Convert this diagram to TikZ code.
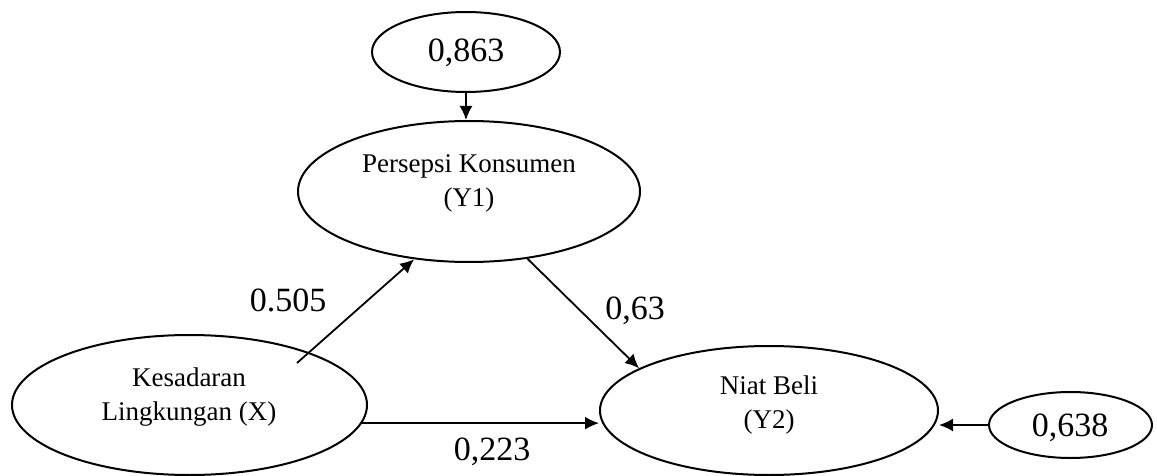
\documentclass[tikz,border=0pt]{standalone}
\usepackage{fontspec}
\setmainfont{Liberation Serif}
\usetikzlibrary{shapes.geometric,arrows.meta}
\begin{document}
\begin{tikzpicture}[x=0.5pt,y=-0.5pt,
  ell/.style={draw,ellipse,line width=1pt,inner sep=0pt},
  lbl/.style={font=\fontsize{13.5}{17}\selectfont,align=center,inner sep=0pt},
  num/.style={font=\fontsize{17}{20}\selectfont,inner sep=0pt},
  arr/.style={line width=0.9pt,-{Latex[length=7pt,width=6.5pt]}}]
\useasboundingbox (0,0) rectangle (1157,476);
% ellipses
\node[ell,minimum width=94pt,minimum height=40pt] (e1) at (466,52) {};
\node[ell,minimum width=171pt,minimum height=70.5pt] (pk) at (469,191.5) {};
\node[ell,minimum width=177.5pt,minimum height=70pt] (kl) at (189.5,405) {};
\node[ell,minimum width=169pt,minimum height=64.5pt] (nb) at (769,410.5) {};
\node[ell,minimum width=81.5pt,minimum height=33pt] (e2) at (1070.5,425) {};
% texts
\node[num] (t1) at (466,53) {0,863};
\node[num] (t2) at (1070,428) {0,638};
\node[lbl] (tpk) at (469,183) {Persepsi Konsumen\\(Y1)};
\node[lbl] (tkl) at (189,397) {Kesadaran\\Lingkungan (X)};
\node[lbl] (tnb) at (769,405) {Niat Beli\\(Y2)};
% connectors
\coordinate (ks) at (297,363);
\draw[arr] (e1.south) -- (e1.south |- pk.north);
\draw[arr] (ks) -- (pk.231);
\draw[arr] (pk.-49) -- (nb.162);
\draw[arr] (kl.-6.5) -- (kl.-6.5 -| nb.west);
\draw[arr] (e2.west) -- (e2.west -| nb.east);
% coefficient labels
\node[num] (l1) at (288,300) {0.505};
\node[num] (l2) at (635,311) {0,63};
\node[num] (l3) at (492,452) {0,223};
\end{tikzpicture}
\end{document}
